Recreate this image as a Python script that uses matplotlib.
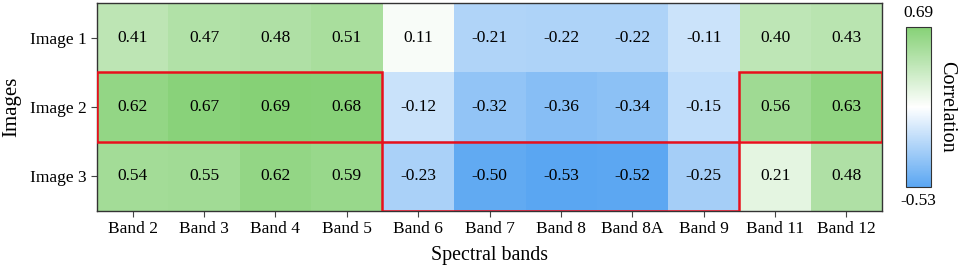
import numpy as np
import matplotlib
matplotlib.use("Agg")
import matplotlib.pyplot as plt
from matplotlib.colors import LinearSegmentedColormap
from matplotlib.patches import Rectangle

plt.rcParams['font.family'] = ['Liberation Serif', 'DejaVu Serif']

bands = ["Band 2", "Band 3", "Band 4", "Band 5", "Band 6", "Band 7", "Band 8",
         "Band 8A", "Band 9", "Band 11", "Band 12"]
images = ["Image 1", "Image 2", "Image 3"]
image1 = [0.41, 0.47, 0.48, 0.51, 0.11, -0.21, -0.22, -0.22, -0.11, 0.40, 0.43]
image2 = [0.62, 0.67, 0.69, 0.68, -0.12, -0.32, -0.36, -0.34, -0.15, 0.56, 0.63]
image3 = [0.54, 0.55, 0.62, 0.59, -0.23, -0.50, -0.53, -0.52, -0.25, 0.21, 0.48]
vmin, vmax = -0.53, 0.69
# highlighted blocks: (row, first col, last col)
highlights = [(1, 0, 3), (1, 9, 10), (2, 4, 8)]

data = np.array([image1, image2, image3])

cmap = LinearSegmentedColormap.from_list("bg", ["#5aa6f2", "#ffffff", "#86d176"])

fig = plt.figure(figsize=(9.62, 2.68), dpi=100)
ax = fig.add_axes([0.1008, 0.2127, 0.8162, 0.7763])
im = ax.imshow(data, cmap=cmap, vmin=vmin, vmax=vmax, aspect='auto')

for i in range(data.shape[0]):
    for j in range(data.shape[1]):
        ax.text(j, i, f"{data[i, j]:.2f}", ha='center', va='center', fontsize=12.5, color='black')

for r, c0, c1 in highlights:
    ax.add_patch(Rectangle((c0 - 0.5, r - 0.5), c1 - c0 + 1, 1, fill=False,
                           edgecolor='#e8101c', linewidth=1.8, zorder=5))

ax.set_xticks(range(len(bands)))
ax.set_xticklabels(bands, fontsize=12.5)
ax.set_yticks(range(len(images)))
ax.set_yticklabels(images, fontsize=12.5)
ax.tick_params(direction='out', length=4, color='#444444')
for s in ax.spines.values():
    s.set_color('#333333')
    s.set_linewidth(1.0)
ax.set_xlabel("Spectral bands", fontsize=14.3, labelpad=6)
ax.set_ylabel("Images", fontsize=15, labelpad=6)

cax = fig.add_axes([0.9418, 0.302, 0.0255, 0.597])
cb = fig.colorbar(im, cax=cax)
cb.set_ticks([])
cb.outline.set_edgecolor('#333333')
cax.text(0.5, 1.04, f"{vmax:.2f}", transform=cax.transAxes, ha='center', va='bottom', fontsize=12.5)
cax.text(0.5, -0.04, f"{vmin:.2f}", transform=cax.transAxes, ha='center', va='top', fontsize=12.5)
cax.text(1.65, 0.5, "Correlation", transform=cax.transAxes, ha='center', va='center',
         rotation=-90, fontsize=14.5)

fig.savefig("out.png", dpi=100)
